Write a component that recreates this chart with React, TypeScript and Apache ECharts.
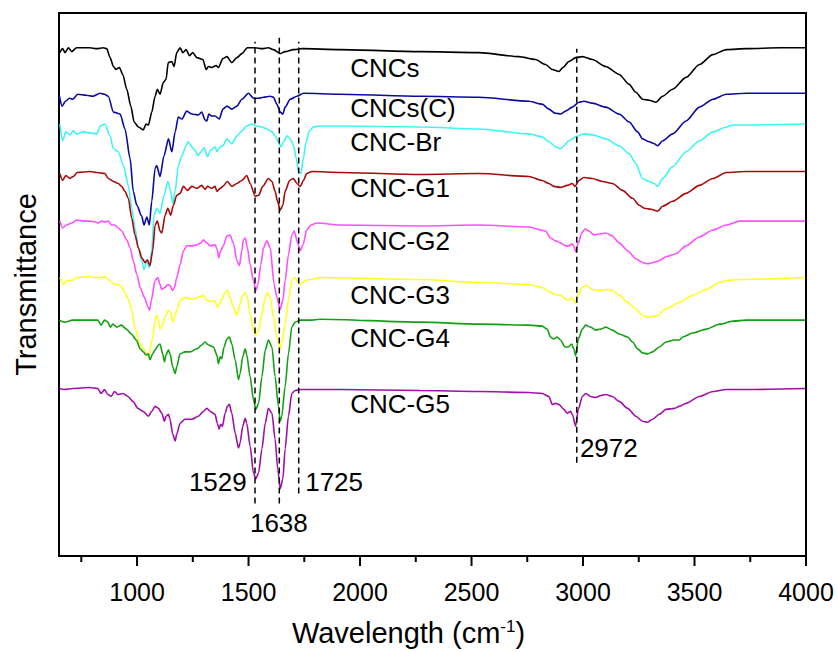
import React, { useEffect, useRef } from "react";
import * as echarts from "echarts";

const FONT = "'Liberation Sans', Arial, sans-serif";

const seriesNames = ["CNCs", "CNCs(C)", "CNC-Br", "CNC-G1", "CNC-G2", "CNC-G3", "CNC-G4", "CNC-G5"];
const seriesColors = ["#000000", "#0A0AA0", "#40F4F4", "#A80A0A", "#FF50FF", "#FFFF20", "#14A014", "#A010A8"];

// Transmittance (arbitrary units, stacked) vs wavenumber (cm-1)
const cncs: [number, number][] = [[654,508],[666,512],[677,508],[692,513],[707,509],[729,513],[789,513],[819,512],[849,513],[864,512],[879,503],[894,494],[906,491],[921,493],[936,486],[954,471],[972,454],[987,438],[1006,433],[1028,430],[1040,436],[1051,435],[1066,448],[1081,464],[1091,471],[1103,466],[1118,478],[1130,481],[1140,498],[1156,499],[1166,494],[1178,508],[1193,513],[1205,508],[1220,511],[1235,505],[1250,508],[1268,503],[1295,501],[1310,491],[1320,494],[1335,493],[1355,495],[1365,493],[1385,502],[1403,504],[1425,498],[1448,503],[1470,507],[1495,513],[1530,513],[1560,512],[1589,513],[1612,511],[1642,507],[1664,509],[1701,511],[1739,512],[1911,511],[2270,509],[2532,508],[2712,504],[2787,501],[2832,496],[2862,491],[2892,489],[2910,493],[2937,499],[2967,503],[2997,504],[3042,501],[3102,494],[3162,486],[3207,476],[3237,468],[3267,461],[3297,460],[3327,458],[3357,464],[3402,471],[3462,483],[3522,496],[3582,506],[3643,511],[3733,512],[3883,513],[3996,513]];

const cncsC: [number, number][] = [[652,464],[664,454],[679,459],[697,462],[712,461],[734,466],[772,465],[802,464],[834,467],[854,466],[871,464],[894,448],[924,446],[946,431],[969,401],[983,368],[999,354],[1021,343],[1031,334],[1044,342],[1055,334],[1066,358],[1081,391],[1088,394],[1103,383],[1121,404],[1141,421],[1156,408],[1171,428],[1185,443],[1201,441],[1223,449],[1246,446],[1275,445],[1290,448],[1305,440],[1313,439],[1322,446],[1335,444],[1350,444],[1369,441],[1385,451],[1403,454],[1425,451],[1448,454],[1470,461],[1500,467],[1522,462],[1545,462],[1567,463],[1597,464],[1612,463],[1627,456],[1642,448],[1654,446],[1664,453],[1687,461],[1717,464],[1746,467],[1911,466],[2270,464],[2532,463],[2757,459],[2817,456],[2847,451],[2874,447],[2899,446],[2922,449],[2952,453],[2982,458],[3004,459],[3042,457],[3102,453],[3162,446],[3207,438],[3245,428],[3267,421],[3297,418],[3320,416],[3335,414],[3357,419],[3402,426],[3462,439],[3522,453],[3583,461],[3643,466],[3733,467],[3996,467]];

const cncBr: [number, number][] = [[654,436],[666,419],[681,428],[699,425],[714,429],[729,426],[759,428],[789,427],[819,426],[834,434],[856,436],[879,424],[894,411],[916,408],[939,394],[961,374],[976,351],[991,331],[1006,311],[1021,298],[1031,289],[1044,298],[1055,291],[1066,308],[1076,344],[1088,351],[1103,346],[1121,364],[1138,378],[1151,368],[1160,356],[1171,368],[1185,394],[1201,404],[1220,414],[1230,418],[1246,413],[1260,409],[1275,404],[1290,409],[1301,412],[1316,403],[1328,409],[1350,413],[1358,408],[1373,413],[1385,414],[1403,421],[1425,416],[1448,424],[1470,429],[1492,434],[1515,436],[1537,434],[1560,433],[1582,431],[1605,428],[1619,424],[1634,418],[1645,413],[1657,418],[1672,424],[1687,421],[1702,414],[1714,401],[1724,388],[1735,386],[1746,401],[1758,418],[1773,429],[1791,433],[1821,434],[1911,434],[2270,433],[2532,431],[2757,426],[2817,423],[2847,418],[2877,413],[2899,411],[2914,414],[2937,419],[2967,423],[3004,426],[3042,425],[3102,421],[3162,414],[3207,406],[3237,396],[3267,381],[3297,378],[3320,376],[3335,373],[3357,381],[3402,393],[3462,408],[3522,419],[3583,428],[3643,433],[3673,435],[3733,435],[3996,436]];

const cncG1: [number, number][] = [[654,386],[666,379],[681,384],[699,381],[714,383],[732,387],[789,388],[819,387],[856,386],[871,381],[894,378],[916,376],[931,373],[946,368],[961,361],[976,341],[991,324],[1006,311],[1021,301],[1036,296],[1046,299],[1058,293],[1070,308],[1081,334],[1091,338],[1103,328],[1111,326],[1126,344],[1138,351],[1151,344],[1163,354],[1178,364],[1193,366],[1208,373],[1226,369],[1246,373],[1268,371],[1290,374],[1305,370],[1316,373],[1335,371],[1350,373],[1358,368],[1373,371],[1385,373],[1405,378],[1425,373],[1448,376],[1470,379],[1492,384],[1507,376],[1530,363],[1545,364],[1564,373],[1589,381],[1605,378],[1619,368],[1630,358],[1642,349],[1654,354],[1664,368],[1684,379],[1701,381],[1717,376],[1732,373],[1746,379],[1761,386],[1784,388],[1911,387],[2270,385],[2532,386],[2757,383],[2817,379],[2847,376],[2869,373],[2899,372],[2929,374],[2952,376],[2964,373],[2982,379],[3004,382],[3042,381],[3087,378],[3132,376],[3177,369],[3222,361],[3252,354],[3275,351],[3305,350],[3335,348],[3357,353],[3402,358],[3462,366],[3522,374],[3583,381],[3643,387],[3733,388],[3996,388]];

const cncG2: [number, number][] = [[654,338],[666,331],[684,334],[707,336],[729,339],[759,338],[789,338],[812,337],[826,336],[841,338],[856,337],[871,338],[886,334],[901,334],[916,331],[931,328],[954,319],[969,311],[983,298],[999,284],[1014,271],[1033,261],[1048,252],[1056,248],[1064,258],[1081,278],[1093,281],[1103,274],[1111,269],[1126,271],[1138,274],[1148,273],[1159,268],[1168,271],[1178,281],[1193,294],[1208,308],[1223,313],[1246,313],[1268,314],[1287,316],[1298,319],[1313,316],[1328,313],[1350,314],[1360,309],[1366,301],[1375,308],[1387,313],[1403,323],[1417,324],[1432,316],[1448,298],[1459,293],[1470,308],[1477,319],[1485,321],[1495,311],[1507,294],[1522,278],[1533,268],[1542,274],[1555,294],[1567,311],[1582,318],[1597,311],[1615,274],[1627,261],[1642,249],[1654,258],[1664,278],[1679,304],[1694,324],[1705,328],[1720,316],[1732,308],[1744,314],[1761,329],[1780,334],[1806,336],[1911,334],[2270,333],[2532,334],[2757,332],[2832,328],[2854,321],[2877,318],[2899,316],[2922,313],[2937,313],[2949,315],[2959,313],[2967,307],[2979,316],[2994,326],[3009,330],[3027,328],[3050,324],[3072,325],[3102,326],[3132,323],[3162,316],[3200,308],[3237,300],[3267,296],[3290,295],[3312,296],[3342,298],[3372,302],[3417,305],[3462,313],[3522,322],[3583,329],[3643,334],[3703,338],[3808,338],[3996,338]];

const cncG3: [number, number][] = [[654,281],[669,274],[684,278],[707,278],[729,281],[789,282],[812,281],[841,281],[856,282],[871,279],[886,276],[901,274],[916,274],[931,271],[946,266],[961,259],[976,248],[991,230],[1014,214],[1028,209],[1040,204],[1051,201],[1058,208],[1070,221],[1081,238],[1088,243],[1096,238],[1103,229],[1111,231],[1126,241],[1141,248],[1151,246],[1160,236],[1171,243],[1178,248],[1193,258],[1215,261],[1246,259],[1275,261],[1298,263],[1313,258],[1328,257],[1350,257],[1360,251],[1369,254],[1380,259],[1395,266],[1405,268],[1417,261],[1432,251],[1448,243],[1462,254],[1474,263],[1485,266],[1495,261],[1507,244],[1522,228],[1533,223],[1545,228],[1560,244],[1575,261],[1585,266],[1597,261],[1612,241],[1627,221],[1642,209],[1649,214],[1664,234],[1679,258],[1694,278],[1709,281],[1724,276],[1735,274],[1754,278],[1777,279],[1821,281],[2270,279],[2532,276],[2757,274],[2817,271],[2854,266],[2877,264],[2899,263],[2925,259],[2937,258],[2949,261],[2959,258],[2967,255],[2979,264],[2997,271],[3012,273],[3042,269],[3072,268],[3102,269],[3132,268],[3162,263],[3200,256],[3237,249],[3267,243],[3290,241],[3320,242],[3342,243],[3357,248],[3387,251],[3432,256],[3492,263],[3553,269],[3613,276],[3643,278],[3703,279],[3996,281]];

const cncG4: [number, number][] = [[652,238],[674,236],[712,238],[787,238],[824,238],[839,233],[854,238],[869,236],[880,231],[892,234],[910,231],[930,233],[952,229],[974,224],[997,218],[1014,209],[1028,206],[1040,203],[1051,204],[1058,198],[1070,204],[1081,208],[1096,213],[1103,214],[1115,204],[1123,196],[1130,203],[1141,208],[1148,204],[1160,191],[1171,184],[1178,191],[1193,204],[1215,206],[1238,206],[1268,209],[1290,213],[1305,216],[1320,213],[1343,211],[1358,203],[1365,194],[1373,201],[1380,199],[1390,211],[1403,219],[1414,221],[1425,214],[1440,198],[1455,178],[1462,184],[1474,201],[1485,209],[1492,203],[1507,181],[1522,158],[1533,148],[1545,154],[1560,181],[1575,208],[1589,218],[1605,211],[1619,181],[1634,151],[1642,136],[1649,141],[1664,171],[1679,204],[1694,231],[1709,236],[1732,238],[1777,238],[1821,239],[2270,236],[2532,234],[2757,233],[2817,232],[2839,229],[2854,221],[2869,219],[2884,221],[2899,218],[2919,211],[2934,211],[2949,214],[2959,209],[2967,202],[2979,219],[2997,229],[3012,233],[3034,231],[3057,228],[3080,229],[3102,231],[3132,228],[3162,224],[3200,221],[3222,216],[3245,209],[3267,205],[3290,204],[3312,206],[3342,211],[3372,216],[3410,218],[3432,218],[3447,221],[3492,225],[3553,229],[3613,234],[3673,237],[3733,238],[3996,238]];

const cncG5: [number, number][] = [[652,169],[674,168],[712,169],[787,170],[824,169],[839,164],[854,168],[869,163],[884,161],[899,166],[914,163],[937,164],[959,161],[982,156],[1004,149],[1027,146],[1051,141],[1066,146],[1081,151],[1096,149],[1111,144],[1123,136],[1130,141],[1141,143],[1148,138],[1160,123],[1171,116],[1178,123],[1193,134],[1215,138],[1246,138],[1275,141],[1298,146],[1313,149],[1328,146],[1350,143],[1360,134],[1368,128],[1375,133],[1383,131],[1395,144],[1405,151],[1414,153],[1425,144],[1440,124],[1455,109],[1462,114],[1474,131],[1485,139],[1492,134],[1507,111],[1522,84],[1533,78],[1545,84],[1560,108],[1575,134],[1589,149],[1605,144],[1619,118],[1631,88],[1642,68],[1654,78],[1664,108],[1679,141],[1694,164],[1709,167],[1732,168],[1911,168],[2270,167],[2532,166],[2757,165],[2817,164],[2847,161],[2862,153],[2877,154],[2892,153],[2914,148],[2929,144],[2944,146],[2952,143],[2967,131],[2979,148],[2997,161],[3012,164],[3034,161],[3057,160],[3080,162],[3102,163],[3132,161],[3162,156],[3200,149],[3237,141],[3267,136],[3290,135],[3312,138],[3342,143],[3372,148],[3410,149],[3432,151],[3462,154],[3522,161],[3583,166],[3643,168],[3733,168],[3996,169]];

const spectra = [cncs, cncsC, cncBr, cncG1, cncG2, cncG3, cncG4, cncG5];

// curve name labels: [wavenumber, transmittance] anchor (left-middle of text)
const nameLabelX = [1956, 1956, 1956, 1956, 1956, 1956, 1956, 1956];
const nameLabelY = [492, 452, 418, 371, 318, 263, 220, 153];

// dashed reference lines
const peakWavenumbers = [1529, 1638, 1725, 2972];
const peakLineTop = [519, 523, 519, 512];
const peakLineBottom = [53, 53, 63, 94];
const peakLabelText = ["1529", "1638", "1725", "2972"];
const peakLabelX = [1492, 1636, 1754, 2986];
const peakLabelY = [75, 33, 75, 109];
const peakLabelSide = ["left", "inside", "right", "right"];

// x axis ticks
const majorTicks = [1000, 1500, 2000, 2500, 3000, 3500, 4000];
const minorTicks = [750, 1250, 1750, 2250, 2750, 3250, 3750];

export default function App() {
  const ref = useRef<HTMLDivElement>(null);

  useEffect(() => {
    if (!ref.current) return;
    const chart = echarts.init(ref.current, null, { renderer: "svg" });

    const tickSeries = (values: number[], len: number) => ({
      type: "custom",
      silent: true,
      clip: false,
      z: 10,
      data: values.map((v) => [v, 0]),
      renderItem: (_params: any, api: any) => {
        const p = api.coord([api.value(0), 0]);
        return {
          type: "line",
          shape: { x1: p[0], y1: p[1], x2: p[0], y2: p[1] + len },
          style: { stroke: "#000", lineWidth: 2 },
        };
      },
    });

    const lineSeries = spectra.map((d, i) => ({
      name: seriesNames[i],
      type: "line",
      data: d,
      showSymbol: false,
      symbol: "none",
      smooth: 0.25,
      smoothMonotone: "x",
      lineStyle: { color: seriesColors[i], width: 1.6 },
      itemStyle: { color: seriesColors[i] },
      z: 2,
    }));

    const dashSeries = peakWavenumbers.map((w, i) => ({
      type: "line",
      data: [
        [w, peakLineBottom[i]],
        [w, peakLineTop[i]],
      ],
      symbol: "none",
      lineStyle: { color: "#000", width: 1.5, type: [6, 4] },
      z: 5,
      silent: true,
    }));

    const textLabel = {
      show: true,
      formatter: (p: any) => p.name,
      fontFamily: FONT,
      fontSize: 26,
      color: "#000",
      opacity: 1,
    };

    const nameLabelSeries = {
      type: "scatter",
      symbolSize: 0,
      silent: true,
      z: 6,
      itemStyle: { opacity: 1 },
      data: seriesNames.map((n, i) => ({ value: [nameLabelX[i], nameLabelY[i]], name: n })),
      label: { ...textLabel, position: "right", distance: 0 },
    };

    const peakLabelSeries = {
      type: "scatter",
      symbolSize: 0,
      silent: true,
      z: 6,
      itemStyle: { opacity: 1 },
      data: peakLabelText.map((t, i) => ({
        value: [peakLabelX[i], peakLabelY[i]],
        name: t,
        label: { position: peakLabelSide[i], distance: 0 },
      })),
      label: textLabel,
    };

    chart.setOption({
      animation: false,
      backgroundColor: "#fff",
      grid: {
        left: 59,
        right: 32,
        top: 13,
        bottom: 91,
        show: true,
        borderColor: "#000",
        borderWidth: 2,
        backgroundColor: "transparent",
      },
      xAxis: {
        type: "value",
        min: 650,
        max: 4000,
        splitNumber: 7,
        name: "{a|Wavelength (cm}{s|-1}{a|)}",
        nameLocation: "middle",
        nameGap: 62,
        nameTextStyle: {
          color: "#000",
          fontFamily: FONT,
          fontSize: 29,
          padding: [0, 48, 0, 0],
          rich: {
            a: { fontFamily: FONT, fontSize: 29, color: "#000" },
            s: { fontFamily: FONT, fontSize: 17, color: "#000", verticalAlign: "top" },
          },
        },
        axisLine: { show: true, onZero: false, lineStyle: { color: "#000", width: 2 } },
        axisTick: { show: false },
        splitLine: { show: false },
        axisLabel: {
          show: true,
          showMinLabel: false,
          margin: 23,
          color: "#000",
          fontFamily: FONT,
          fontSize: 25,
          formatter: (v: number) => String(v),
        },
      },
      yAxis: {
        type: "value",
        min: 0,
        max: 548,
        name: "Transmittance",
        nameLocation: "middle",
        nameGap: 19,
        nameTextStyle: { color: "#000", fontFamily: FONT, fontSize: 29 },
        axisLine: { show: true, lineStyle: { color: "#000", width: 2 } },
        axisTick: { show: false },
        axisLabel: { show: false },
        splitLine: { show: false },
      },
      series: [
        ...lineSeries,
        ...dashSeries,
        nameLabelSeries,
        peakLabelSeries,
        tickSeries(majorTicks, 10),
        tickSeries(minorTicks, 6),
      ],
    });

    return () => chart.dispose();
  }, []);

  return (
    <div
      ref={ref}
      style={{ position: "absolute", left: 0, top: 0, width: 838, height: 652, background: "#fff" }}
    />
  );
}
